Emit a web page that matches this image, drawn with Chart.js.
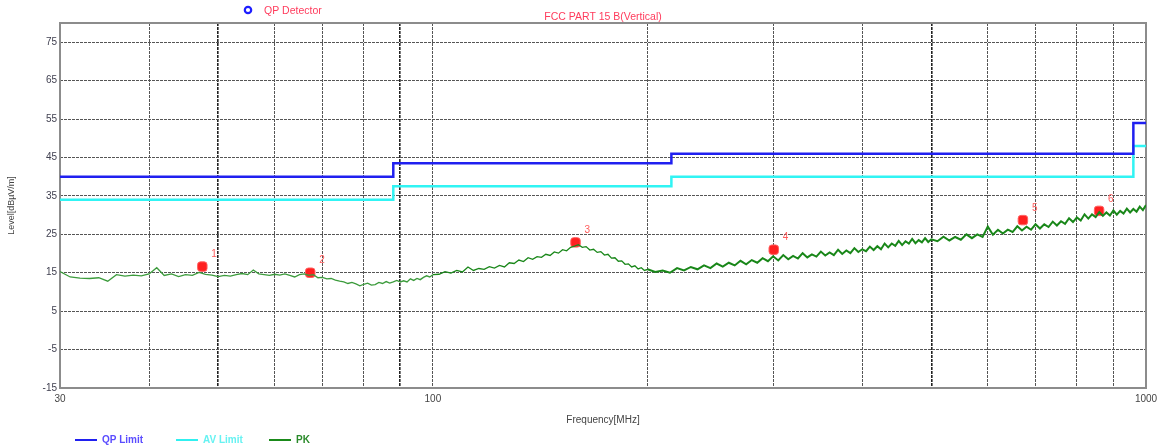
<!DOCTYPE html>
<html>
<head>
<meta charset="utf-8">
<script src="https://cdn.jsdelivr.net/npm/chart.js@4.4.1/dist/chart.umd.min.js"></script>
<style>
  html, body { margin: 0; padding: 0; background: #fff; }
</style>
</head>
<body>
<canvas id="chart" width="1158" height="448"></canvas>
<script>
// axis ticks / grid
const yTicks = [-15, -5, 5, 15, 25, 35, 45, 55, 65, 75];
const xGrid = [30, 40, 50, 60, 70, 80, 90, 100, 200, 300, 400, 500, 600, 700, 800, 900, 1000];
const xLabels = [30, 100, 1000];
const boldGrid = [50, 90, 500];

// limit lines (step at each frequency)
const limitFreq = [30, 88, 216, 960, 1000];
const qpLimit = [40, 43.5, 46, 54, 54];
const avLimit = [34, 37.5, 40, 48, 48];

// peak trace
const pkFreq = [
  30, 31, 32, 33, 34, 35, 36, 37, 38, 39, 40, 41, 42, 43, 44, 45, 46, 47, 48, 49,
  50, 51, 52, 53, 54, 55, 56, 57, 58, 59, 60, 61, 62, 63, 64, 65, 66, 67, 68, 69,
  70, 71, 72, 73, 74, 75, 76, 77, 78, 79, 80, 81, 82, 83, 84, 85, 86, 87, 88, 89,
  90, 91, 92, 93, 94, 95, 96, 97, 98, 99, 100,
  102, 104, 106, 108, 110, 112, 114, 116, 118, 120, 122, 124, 126, 128, 130, 132, 134, 136, 138, 140,
  142, 144, 146, 148, 150, 152, 154, 156, 158, 160, 162, 164, 166, 168, 170, 172, 174, 176, 178, 180,
  182, 184, 186, 188, 190, 192, 194, 196, 198, 200,
  205, 210, 215, 220, 225, 230, 235, 240, 245, 250, 255, 260, 265, 270, 275, 280, 285, 290, 295, 300,
  305, 310, 315, 320, 325, 330, 335, 340, 345, 350, 355, 360, 365, 370, 375, 380, 385, 390, 395, 400,
  405, 410, 415, 420, 425, 430, 435, 440, 445, 450, 455, 460, 465, 470, 475, 480, 485, 490, 495, 500,
  510, 520, 530, 540, 550, 560, 570, 580, 590, 600, 610, 620, 630, 640, 650, 660, 670, 680, 690, 700,
  710, 720, 730, 740, 750, 760, 770, 780, 790, 800, 810, 820, 830, 840, 850, 860, 870, 880, 890, 900,
  910, 920, 930, 940, 950, 960, 970, 980, 990, 1000
];
const pkLevel = [
  15.3, 13.9, 13.6, 13.5, 13.7, 12.8, 14.5, 14.1, 14.4, 14.2, 14.7, 16.3, 14.3, 14.7, 14.0, 14.5, 14.3, 15.1, 14.6, 14.4,
  14.0, 14.3, 14.1, 14.5, 14.8, 14.5, 15.7, 14.7, 14.5, 14.3, 14.6, 14.4, 14.7, 14.3, 13.9, 14.5, 14.7, 14.3, 14.5, 13.7,
  13.8, 13.4, 13.5, 13.1, 12.8, 12.6, 12.2, 12.5, 12.1, 11.6, 12.0, 12.3, 11.8, 11.9, 12.5, 12.2, 12.7, 12.3, 12.6, 13.0,
  12.6, 12.9, 12.6, 13.4, 13.0, 13.5, 13.2, 13.8, 14.2, 13.9, 14.5,
  14.6, 15.3, 14.9, 15.6, 15.2, 16.5, 15.6, 16.1, 15.9, 16.6, 16.2, 16.9, 16.5, 17.6, 17.4, 18.3, 17.9, 18.9, 18.5, 19.2,
  19.0, 19.8, 19.5, 20.4, 20.1, 21.0, 20.7, 21.6, 21.9, 22.3, 21.6, 21.8, 20.9, 21.1, 20.3, 20.5, 19.6, 19.8, 18.8, 18.9,
  18.0, 18.1, 17.2, 17.3, 16.5, 16.8, 16.0, 16.3, 15.6, 15.9,
  15.2, 15.6, 15.0, 16.2, 15.6, 16.5, 15.9, 16.9, 16.2, 17.4, 16.6, 17.6, 16.9, 18.1, 17.2, 18.3, 17.6, 18.8, 18.0, 19.3,
  18.2, 19.6, 18.5, 19.4, 18.7, 20.1, 19.0, 19.8, 19.2, 20.5, 19.5, 20.3, 19.6, 21.0, 19.9, 20.8, 20.1, 21.4, 20.4, 21.1,
  20.6, 21.8, 20.9, 21.9, 21.1, 22.6, 21.6, 22.6, 22.0, 23.3, 22.2, 23.2, 22.6, 23.8, 22.7, 23.5, 22.9, 24.0, 23.0, 23.7,
  23.2, 24.4, 23.4, 24.3, 23.6, 25.0, 24.0, 25.0, 24.3, 27.0, 24.9, 26.2, 25.2, 26.2, 25.6, 27.1, 26.0, 27.0, 26.2, 27.6,
  26.5, 27.6, 26.9, 28.3, 27.3, 28.4, 27.7, 29.2, 28.2, 29.4, 28.6, 30.2, 29.1, 30.2, 29.5, 30.8, 29.8, 30.7, 29.9, 31.2,
  30.1, 31.1, 30.4, 31.7, 30.7, 31.6, 30.9, 32.2, 31.3, 32.6
];

// QP detector markers
const markerFreq = [47.5, 67.3, 158.5, 300.6, 672, 859.5];
const markerLevel = [16.6, 15.0, 22.9, 21.0, 28.7, 31.1];
const markerNames = ["1", "2", "3", "4", "5", "6"];

const FONT = '"Liberation Sans", Arial, sans-serif';

const toXY = (xs, ys) => xs.map((x, i) => ({ x: x, y: ys[i] }));

// frame, marker numbers, title and the two legends
const decor = {
  id: "decor",
  beforeDatasetsDraw(chart) {
    const { ctx, chartArea: a } = chart;
    ctx.save();
    ctx.strokeStyle = "#8c8c8c";
    ctx.lineWidth = 2;
    ctx.strokeRect(a.left, a.top, a.right - a.left, a.bottom - a.top);
    ctx.restore();
  },
  afterDraw(chart) {
    const { ctx, chartArea: a } = chart;
    ctx.save();
    ctx.textBaseline = "middle";

    // numbers next to markers
    ctx.font = "10px " + FONT;
    ctx.fillStyle = "#ff5a5a";
    ctx.textAlign = "left";
    chart.getDatasetMeta(3).data.forEach((pt, i) => {
      ctx.fillText(markerNames[i], pt.x + 9, pt.y - 12);
    });

    // title
    ctx.fillStyle = "#ff3b5c";
    ctx.textAlign = "center";
    ctx.font = "10.5px " + FONT;
    ctx.fillText("FCC PART 15 B(Vertical)", (a.left + a.right) / 2, 17);

    // QP detector legend
    ctx.beginPath();
    ctx.arc(248, 10, 3.2, 0, Math.PI * 2);
    ctx.strokeStyle = "#1e1eff";
    ctx.lineWidth = 2.2;
    ctx.stroke();
    ctx.fillStyle = "#ff3b5c";
    ctx.textAlign = "left";
    ctx.fillText("QP Detector", 264, 11);

    // bottom legend
    const items = [
      { x: 75, text: "QP Limit", line: "#2020f0", color: "#5a4cff" },
      { x: 176, text: "AV Limit", line: "#30f0f0", color: "#66f2f2" },
      { x: 269, text: "PK", line: "#1a8a1a", color: "#2a8a2a" }
    ];
    ctx.font = "bold 10px " + FONT;
    items.forEach(it => {
      ctx.beginPath();
      ctx.moveTo(it.x, 440);
      ctx.lineTo(it.x + 22, 440);
      ctx.strokeStyle = it.line;
      ctx.lineWidth = 2;
      ctx.stroke();
      ctx.fillStyle = it.color;
      ctx.fillText(it.text, it.x + 27, 440);
    });
    ctx.restore();
  }
};

new Chart(document.getElementById("chart"), {
  type: "line",
  data: {
    datasets: [
      {
        label: "QP Limit",
        data: toXY(limitFreq, qpLimit),
        stepped: true,
        borderColor: "#2020f0",
        borderWidth: 2.5,
        pointRadius: 0
      },
      {
        label: "AV Limit",
        data: toXY(limitFreq, avLimit),
        stepped: true,
        borderColor: "#30f4f4",
        borderWidth: 2.5,
        pointRadius: 0
      },
      {
        label: "PK",
        data: toXY(pkFreq, pkLevel),
        borderColor: "rgb(40,145,40)",
        borderWidth: 1.3,
        pointRadius: 0,
        tension: 0,
        segment: {
          borderWidth: c => (c.p0.parsed.x >= 200 ? 2 : 1.3),
          borderColor: c => (c.p0.parsed.x >= 100 ? "rgb(25,135,25)" : "rgb(60,155,60)")
        }
      },
      {
        label: "QP Detector",
        data: toXY(markerFreq, markerLevel),
        showLine: false,
        pointStyle: "rectRounded",
        pointRadius: 5.5,
        backgroundColor: "#ff2020",
        borderColor: "#ff6060",
        borderWidth: 1
      }
    ]
  },
  options: {
    responsive: false,
    animation: false,
    layout: { padding: { left: 0, right: 12, top: 23, bottom: 0 } },
    plugins: {
      legend: { display: false },
      title: { display: false },
      tooltip: { enabled: false }
    },
    scales: {
      x: {
        type: "logarithmic",
        min: 30,
        max: 1000,
        afterBuildTicks: scale => { scale.ticks = xGrid.map(v => ({ value: v })); },
        afterFit: scale => {
          scale.height = 60;
          scale.paddingLeft = 0;
          scale.paddingRight = 0;
        },
        ticks: {
          autoSkip: false,
          maxRotation: 0,
          padding: 5,
          color: "#444",
          font: { size: 10, family: FONT },
          callback: v => (xLabels.includes(v) ? String(v) : "")
        },
        grid: {
          drawTicks: false,
          color: c => (boldGrid.includes(c.tick && c.tick.value) ? "#222" : "#555"),
          lineWidth: c => (boldGrid.includes(c.tick && c.tick.value) ? 1.6 : 1)
        },
        border: { display: false, dash: [3, 1] },
        title: {
          display: true,
          text: "Frequency[MHz]",
          color: "#444",
          font: { size: 10, family: FONT },
          padding: { top: 0, bottom: 22 }
        }
      },
      y: {
        min: -15,
        max: 80,
        afterBuildTicks: scale => { scale.ticks = yTicks.map(v => ({ value: v })); },
        afterFit: scale => { scale.width = 60; },
        ticks: {
          padding: 3,
          color: "#404050",
          font: { size: 10, family: FONT }
        },
        grid: { drawTicks: false, color: "#555", lineWidth: 1 },
        border: { display: false, dash: [3, 1] },
        title: {
          display: true,
          text: "Level[dBµV/m]",
          color: "#444",
          font: { size: 9, family: FONT },
          padding: { top: 6, bottom: 0 }
        }
      }
    }
  },
  plugins: [decor]
});
</script>
</body>
</html>
